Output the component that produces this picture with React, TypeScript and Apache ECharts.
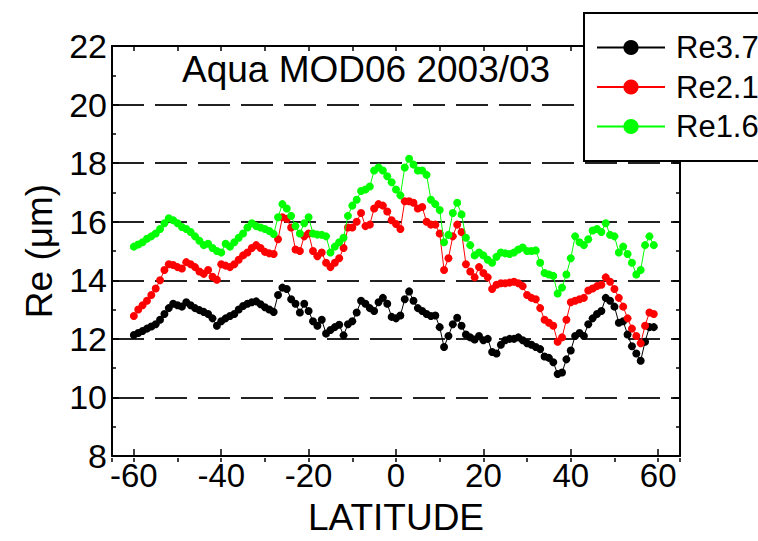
import React, { useEffect, useRef } from "react";
import * as echarts from "echarts";

const latitude: number[] = [
  -60, -59, -58, -57, -56, -55, -54, -53, -52, -51, -50, -49, -48, -47, -46, -45, -44, -43, -42, -41,
  -40, -39, -38, -37, -36, -35, -34, -33, -32, -31, -30, -29, -28, -27, -26, -25, -24, -23, -22, -21,
  -20, -19, -18, -17, -16, -15, -14, -13, -12, -11, -10, -9, -8, -7, -6, -5, -4, -3, -2, -1,
  0, 1, 2, 3, 4, 5, 6, 7, 8, 9, 10, 11, 12, 13, 14, 15, 16, 17, 18, 19,
  20, 21, 22, 23, 24, 25, 26, 27, 28, 29, 30, 31, 32, 33, 34, 35, 36, 37, 38, 39,
  40, 41, 42, 43, 44, 45, 46, 47, 48, 49, 50, 51, 52, 53, 54, 55, 56, 57, 58, 59,
];

const re37: number[] = [
  12.13, 12.2, 12.27, 12.35, 12.42, 12.5, 12.65, 12.85, 13.05, 13.2, 13.15, 13.1, 13.25, 13.15, 13.05, 12.98, 12.92, 12.85, 12.7, 12.45,
  12.6, 12.7, 12.78, 12.85, 13.0, 13.12, 13.2, 13.25, 13.28, 13.18, 13.08, 13.0, 12.92, 13.5, 13.75, 13.7, 13.35, 13.2, 12.9, 13.2,
  12.95, 12.6, 12.45, 12.65, 12.18, 12.3, 12.4, 12.48, 12.12, 12.5, 12.6, 12.9, 13.3, 13.2, 13.05, 12.95, 13.25, 13.4, 13.2, 12.75,
  12.7, 12.8, 13.35, 13.62, 13.3, 13.05, 12.95, 12.85, 12.78, 12.8, 12.4, 11.72, 12.1, 12.5, 12.72, 12.45, 12.15, 12.05, 11.98, 12.1,
  11.95, 12.0, 11.55, 11.5, 11.8, 11.95, 12.0, 12.0, 12.05, 11.95, 11.85, 11.8, 11.72, 11.65, 11.4, 11.35, 11.2, 10.8, 10.85, 11.3,
  11.6, 12.1, 12.2, 12.1, 12.5, 12.7, 12.85, 12.95, 13.4, 13.3, 13.1, 12.55, 12.6, 12.15, 11.75, 11.5, 11.25, 11.9, 12.4, 12.4,
];

const re21: number[] = [
  12.78, 13.0, 13.15, 13.3, 13.5, 13.72, 14.0, 14.35, 14.55, 14.52, 14.45, 14.4, 14.62, 14.55, 14.45, 14.3, 14.22, 14.35, 14.12, 14.02,
  14.55, 14.5, 14.45, 14.55, 14.7, 14.85, 14.95, 15.1, 15.2, 15.1, 14.97, 14.92, 14.9, 15.4, 16.15, 16.1, 15.8, 15.05, 15.0, 15.5,
  15.6, 15.0, 14.82, 14.95, 14.6, 14.45, 14.6, 14.75, 15.1, 15.8, 15.8, 16.0, 16.3, 15.85, 15.9, 16.45, 16.6, 16.55, 16.35, 16.05,
  15.92, 15.75, 16.7, 16.7, 16.65, 16.45, 16.5, 16.0, 15.9, 15.9, 15.6, 14.35, 14.75, 15.5, 15.9, 15.65, 14.55, 14.3, 14.1, 14.45,
  14.25, 14.1, 13.7, 13.85, 13.9, 13.9, 13.92, 13.95, 13.9, 13.8, 13.5, 13.4, 13.35, 13.05, 12.65, 12.55, 12.45, 11.9, 12.05, 12.65,
  13.25, 13.3, 13.35, 13.4, 13.65, 13.72, 13.8, 13.85, 14.1, 13.95, 13.7, 13.4, 13.1, 12.7, 12.35, 12.1, 11.85, 12.45, 12.9, 12.85,
];

const re16: number[] = [
  15.15, 15.22, 15.3, 15.42, 15.5, 15.6, 15.75, 15.95, 16.12, 16.05, 15.95, 15.82, 15.75, 15.65, 15.5, 15.35, 15.2, 15.25, 15.1, 15.0,
  14.95, 15.25, 15.15, 15.3, 15.45, 15.6, 15.8, 15.95, 15.85, 15.8, 15.75, 15.68, 15.58, 16.15, 16.6, 16.45, 16.2, 15.85, 15.6, 15.95,
  16.15, 15.6, 15.56, 15.55, 15.5, 14.95, 15.15, 15.3, 15.45, 16.2, 16.55, 16.75, 17.05, 17.1, 17.2, 17.75, 17.85, 17.75, 17.55, 17.35,
  17.1, 16.9, 17.85, 18.15, 17.95, 17.75, 17.75, 17.6, 16.75, 16.6, 16.4, 15.3, 15.55, 16.3, 16.65, 16.25, 15.45, 15.2, 14.85, 14.95,
  14.85, 14.7, 14.6, 14.8, 14.95, 14.92, 14.9, 14.95, 15.05, 15.12, 15.0, 15.0, 15.02, 14.6, 14.25, 14.2, 14.15, 13.55, 13.75, 14.2,
  14.75, 15.5, 15.3, 15.2, 15.4, 15.7, 15.75, 15.65, 15.95, 15.55, 15.5, 14.95, 15.15, 14.9, 14.6, 14.2, 14.35, 15.2, 15.5, 15.2,
];

const seriesNames: string[] = ["Re3.7", "Re2.1", "Re1.6"];
const seriesColors: string[] = ["#000000", "#ff0000", "#00ff00"];
const titleText = "Aqua MOD06 2003/03";
const xAxisName = "LATITUDE";
const yAxisName = "Re (\u03bcm)";

const FONT = "'Liberation Sans', Arial, sans-serif";

export default function App() {
  const ref = useRef<HTMLDivElement>(null);

  useEffect(() => {
    if (!ref.current) return;
    const chart = echarts.init(ref.current, undefined, { renderer: "svg" });
    const values = [re37, re21, re16];
    const gridRect = { left: 112, right: 78, top: 46, bottom: 79 };

    const option: any = {
      animation: false,
      backgroundColor: "#ffffff",
      title: {
        text: titleText,
        left: 182,
        top: 51,
        padding: 0,
        textStyle: { fontSize: 37, fontWeight: "normal", color: "#000", fontFamily: FONT },
      },
      legend: {
        orient: "vertical",
        left: 584,
        top: 13,
        padding: [19, 40, 19, 12],
        itemGap: 8.5,
        itemWidth: 68,
        itemHeight: 19,
        backgroundColor: "#ffffff",
        borderColor: "#000",
        borderWidth: 2,
        borderRadius: 0,
        data: seriesNames,
        textStyle: { fontSize: 31, color: "#000", fontFamily: FONT, padding: [0, 0, 0, 6] },
        z: 20,
      },
      grid: [
        { ...gridRect, containLabel: false },
        { ...gridRect, containLabel: false },
      ],
      xAxis: [
        {
          type: "value",
          gridIndex: 0,
          position: "bottom",
          min: -65,
          max: 65,
          splitNumber: 6,
          minInterval: 20,
          maxInterval: 20,
          name: xAxisName,
          nameLocation: "middle",
          nameGap: 43,
          nameTextStyle: { fontSize: 37, color: "#000", fontFamily: FONT },
          axisLine: { show: true, onZero: false, lineStyle: { color: "#000", width: 2 } },
          axisTick: { show: true, inside: true, length: 7, lineStyle: { color: "#000", width: 1.5 } },
          axisLabel: {
            fontSize: 33,
            color: "#000",
            fontFamily: FONT,
            margin: 3,
            showMinLabel: false,
            showMaxLabel: false,
            formatter: (v: number) => (v % 20 === 0 ? String(v) : ""),
          },
          splitLine: { show: false },
        },
        {
          type: "value",
          gridIndex: 0,
          position: "top",
          min: -65,
          max: 65,
          splitNumber: 13,
          minInterval: 10,
          maxInterval: 10,
          axisLine: { show: true, onZero: false, lineStyle: { color: "#000", width: 2 } },
          axisTick: { show: true, inside: true, length: 5, lineStyle: { color: "#000", width: 1.5 } },
          axisLabel: { show: false },
          splitLine: { show: false },
        },
        {
          type: "value",
          gridIndex: 1,
          position: "bottom",
          min: -65,
          max: 65,
          splitNumber: 13,
          minInterval: 10,
          maxInterval: 10,
          axisLine: { show: false, onZero: false },
          axisTick: { show: true, inside: true, length: 4, lineStyle: { color: "#000", width: 1.5 } },
          axisLabel: { show: false },
          splitLine: { show: false },
        },
      ],
      yAxis: [
        {
          type: "value",
          gridIndex: 0,
          position: "left",
          min: 8,
          max: 22,
          interval: 2,
          name: yAxisName,
          nameLocation: "middle",
          nameGap: 52,
          nameTextStyle: { fontSize: 37, color: "#000", fontFamily: FONT },
          axisLine: { show: true, onZero: false, lineStyle: { color: "#000", width: 2 } },
          axisTick: { show: true, inside: true, length: 7, lineStyle: { color: "#000", width: 1.5 } },
          minorTick: { show: true, splitNumber: 2, length: 4, lineStyle: { color: "#000", width: 1.5 } },
          axisLabel: { fontSize: 34, color: "#000", fontFamily: FONT, margin: 5 },
          splitLine: {
            show: true,
            lineStyle: { color: "#222", width: 2, type: [32, 11] },
          },
        },
        {
          type: "value",
          gridIndex: 0,
          position: "right",
          min: 8,
          max: 22,
          interval: 2,
          axisLine: { show: true, onZero: false, lineStyle: { color: "#000", width: 2 } },
          axisTick: { show: true, inside: true, length: 7, lineStyle: { color: "#000", width: 1.5 } },
          minorTick: { show: true, splitNumber: 2, length: 4, lineStyle: { color: "#000", width: 1.5 } },
          axisLabel: { show: false },
          splitLine: { show: false },
        },
        {
          type: "value",
          gridIndex: 1,
          min: 8,
          max: 22,
          show: false,
          axisLine: { onZero: false },
        },
      ],
      series: seriesNames.map((name, si) => ({
        name,
        type: "line",
        xAxisIndex: 0,
        yAxisIndex: 0,
        data: latitude.map((lat, i) => [lat, values[si][i]]),
        symbol: "circle",
        symbolSize: 8,
        showAllSymbol: true,
        color: seriesColors[si],
        itemStyle: { color: seriesColors[si] },
        lineStyle: { color: seriesColors[si], width: 1 },
        emphasis: { disabled: true },
        z: 2 + si,
      })),
    };

    chart.setOption(option);
    return () => {
      chart.dispose();
    };
  }, []);

  return (
    <div
      ref={ref}
      style={{ position: "fixed", left: 0, top: 0, width: 758, height: 541, background: "#fff" }}
    />
  );
}
